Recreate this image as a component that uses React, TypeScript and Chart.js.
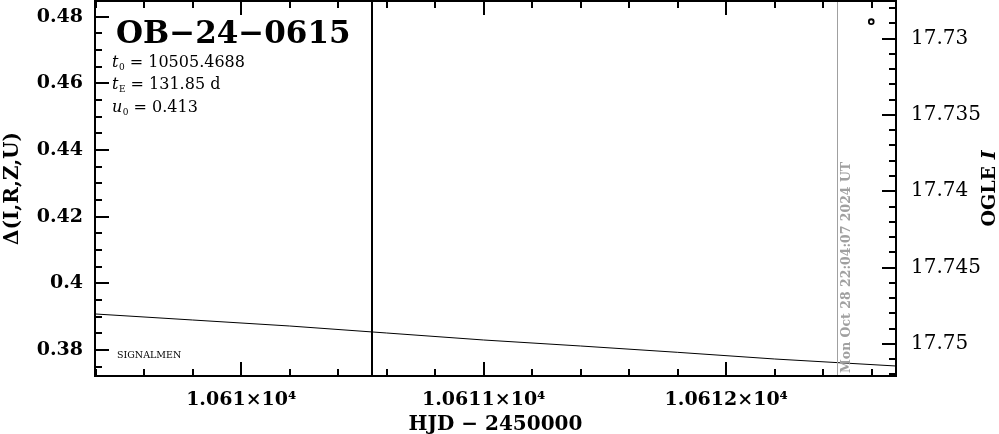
import React, { useEffect, useRef } from "react";
import { Chart, registerables } from "chart.js";

Chart.register(...registerables);

// ---- data ----
const modelHJD = [10609.4, 10609.8, 10610.2, 10610.6, 10611.0, 10611.4, 10611.8, 10612.2, 10612.7];
const modelDelta = [0.3908, 0.389, 0.3872, 0.3851, 0.383, 0.3812, 0.3793, 0.3773, 0.3752];
const obsHJD = [10612.598];
const obsDelta = [0.4785];
const markerHJD = [10610.54];
const nowHJD = [10612.455];
const nowLabel = "Mon Oct 28 22:04:07 2024 UT";
const eventName = "OB\u221224\u22120615";
const paramNames = ["t", "t", "u"];
const paramSubs = ["0", "E", "0"];
const paramValues = ["10505.4688", "131.85 d", "0.413"];
const siteLabel = "SIGNALMEN";
const xTitle = "HJD \u2212 2450000";
const yTitle = "\u0394(I,R,Z,U)";
const magTitle = "OGLE ";
const magTitleItalic = "I";

const X_MIN = 10609.397;
const X_MAX = 10612.7;
const Y_MIN = 0.3722;
const Y_MAX = 0.4847;
const MAG_MIN = 17.72753;
const MAG_MAX = 17.75211;

const FAM = '"DejaVu Serif"';

const zeroPad = (s: any) => {
  s.paddingTop = 0;
  s.paddingBottom = 0;
  s.paddingLeft = 0;
  s.paddingRight = 0;
};

const decor = {
  id: "decor",
  afterDraw(chart: any) {
    const ctx: CanvasRenderingContext2D = chart.ctx;
    const { left, right, top, bottom } = chart.chartArea;
    const xs = chart.scales.x;
    const ys = chart.scales.y;
    const ms = chart.scales.mag;
    ctx.save();

    // vertical lines
    ctx.strokeStyle = "#000";
    ctx.lineWidth = 2;
    markerHJD.forEach((v) => {
      const px = Math.round(xs.getPixelForValue(v));
      ctx.beginPath();
      ctx.moveTo(px, top);
      ctx.lineTo(px, bottom);
      ctx.stroke();
    });
    ctx.strokeStyle = "#a0a0a0";
    ctx.lineWidth = 1;
    nowHJD.forEach((v) => {
      const px = Math.round(xs.getPixelForValue(v)) + 0.5;
      ctx.beginPath();
      ctx.moveTo(px, top);
      ctx.lineTo(px, bottom);
      ctx.stroke();
      ctx.save();
      ctx.translate(px + 9, bottom - 3);
      ctx.rotate(-Math.PI / 2);
      ctx.fillStyle = "#a0a0a0";
      ctx.font = `bold 12.5px ${FAM}`;
      ctx.textAlign = "left";
      ctx.textBaseline = "middle";
      ctx.fillText(nowLabel, 0, 0);
      ctx.restore();
    });

    // frame
    ctx.strokeStyle = "#000";
    ctx.lineWidth = 2;
    ctx.strokeRect(left, top, right - left, bottom - top);

    // inward ticks
    ctx.lineWidth = 2;
    ctx.beginPath();
    for (let k = Math.ceil(X_MIN * 5); k <= Math.floor(X_MAX * 5); k++) {
      const px = Math.round(xs.getPixelForValue(k / 5));
      const len = k % 5 === 0 ? 14 : 7;
      ctx.moveTo(px, bottom);
      ctx.lineTo(px, bottom - len);
      ctx.moveTo(px, top);
      ctx.lineTo(px, top + len);
    }
    for (let k = Math.ceil(Y_MIN * 200); k <= Math.floor(Y_MAX * 200); k++) {
      const py = Math.round(ys.getPixelForValue(k / 200));
      const len = k % 4 === 0 ? 14 : 7;
      ctx.moveTo(left, py);
      ctx.lineTo(left + len, py);
    }
    for (let k = Math.ceil(MAG_MIN * 1000); k <= Math.floor(MAG_MAX * 1000); k++) {
      const py = Math.round(ms.getPixelForValue(k / 1000));
      const len = k % 5 === 0 ? 14 : 7;
      ctx.moveTo(right, py);
      ctx.lineTo(right - len, py);
    }
    ctx.stroke();

    // texts
    ctx.fillStyle = "#000";
    ctx.textBaseline = "alphabetic";
    ctx.textAlign = "left";
    ctx.font = `bold 31px ${FAM}`;
    ctx.fillText(eventName, left + 21, top + 42);

    const baseY = [67, 89, 112];
    paramNames.forEach((n, i) => {
      let x = left + 17;
      const y = baseY[i];
      ctx.font = `italic 16px ${FAM}`;
      ctx.fillText(n, x, y);
      x += ctx.measureText(n).width;
      ctx.font = `9px ${FAM}`;
      ctx.fillText(paramSubs[i], x + 0.5, y + 3);
      x += ctx.measureText(paramSubs[i]).width + 0.5;
      ctx.font = `16px ${FAM}`;
      ctx.fillText(" = " + paramValues[i], x, y);
    });

    ctx.font = `9.5px ${FAM}`;
    ctx.fillText(siteLabel, left + 22, 357.5);

    // axis titles
    ctx.font = `bold 20px ${FAM}`;
    ctx.textAlign = "center";
    ctx.textBaseline = "middle";
    ctx.fillText(xTitle, (left + right) / 2, 425);

    ctx.save();
    ctx.translate(12.5, (top + bottom) / 2);
    ctx.rotate(-Math.PI / 2);
    ctx.font = `bold 20px ${FAM}`;
    ctx.fillText(yTitle, 0, 0);
    ctx.restore();

    ctx.save();
    ctx.translate(990, (top + bottom) / 2);
    ctx.rotate(-Math.PI / 2);
    ctx.textAlign = "left";
    ctx.font = `bold 19px ${FAM}`;
    const w1 = ctx.measureText(magTitle).width;
    ctx.font = `italic bold 19px ${FAM}`;
    const w2 = ctx.measureText(magTitleItalic).width;
    const x0 = -(w1 + w2) / 2;
    ctx.font = `bold 19px ${FAM}`;
    ctx.fillText(magTitle, x0, 0);
    ctx.font = `italic bold 19px ${FAM}`;
    ctx.fillText(magTitleItalic, x0 + w1, 0);
    ctx.restore();

    ctx.restore();
  },
};

export default function App() {
  const ref = useRef<HTMLCanvasElement>(null);
  useEffect(() => {
    document.body.style.margin = "0";
    const canvas = ref.current!;
    const chart = new Chart(canvas, {
      type: "line",
      data: {
        datasets: [
          {
            type: "line",
            label: "model",
            data: modelHJD.map((x, i) => ({ x, y: modelDelta[i] })),
            borderColor: "#000",
            borderWidth: 1,
            pointRadius: 0,
            tension: 0,
            yAxisID: "y",
          },
          {
            type: "scatter",
            label: siteLabel,
            data: obsHJD.map((x, i) => ({ x, y: obsDelta[i] })),
            borderColor: "#000",
            backgroundColor: "#fff",
            borderWidth: 1.8,
            pointRadius: 2.4,
            yAxisID: "y",
          },
        ] as any,
      },
      options: {
        animation: false,
        responsive: false,
        devicePixelRatio: 1,
        events: [],
        layout: { autoPadding: false, padding: { top: 1, left: 0, right: 0, bottom: 0 } },
        plugins: { legend: { display: false }, tooltip: { enabled: false } },
        scales: {
          x: {
            type: "linear",
            position: "bottom",
            min: X_MIN,
            max: X_MAX,
            border: { display: false },
            grid: { display: false, drawTicks: false },
            ticks: {
              stepSize: 1,
              includeBounds: false,
              autoSkip: false,
              maxRotation: 0,
              padding: 13,
              color: "#000",
              font: { family: "DejaVu Serif", size: 19, weight: "bold" },
              callback: (v: any) => `${+(Number(v) / 1e4).toFixed(5)}\u00d710\u2074`,
            },
            afterFit: (s: any) => {
              s.height = 58;
              zeroPad(s);
            },
          },
          y: {
            type: "linear",
            position: "left",
            min: Y_MIN,
            max: Y_MAX,
            border: { display: false },
            grid: { display: false, drawTicks: false },
            ticks: {
              stepSize: 0.02,
              includeBounds: false,
              autoSkip: false,
              padding: 12,
              color: "#000",
              font: { family: "DejaVu Serif", size: 19, weight: "bold" },
              callback: (v: any) => `${+Number(v).toFixed(3)}`,
            },
            afterFit: (s: any) => {
              s.width = 95;
              zeroPad(s);
            },
          },
          mag: {
            type: "linear",
            position: "right",
            reverse: true,
            min: MAG_MIN,
            max: MAG_MAX,
            border: { display: false },
            grid: { display: false, drawTicks: false },
            ticks: {
              stepSize: 0.005,
              includeBounds: false,
              autoSkip: false,
              padding: 15,
              color: "#000",
              font: { family: "DejaVu Serif", size: 20 },
              callback: (v: any) => `${+Number(v).toFixed(3)}`,
            },
            afterFit: (s: any) => {
              s.width = 103;
              zeroPad(s);
            },
          },
        },
      } as any,
      plugins: [decor],
    });
    return () => chart.destroy();
  }, []);
  return (
    <div style={{ width: 999, height: 434 }}>
      <canvas ref={ref} width={999} height={434} style={{ display: "block" }} />
    </div>
  );
}
